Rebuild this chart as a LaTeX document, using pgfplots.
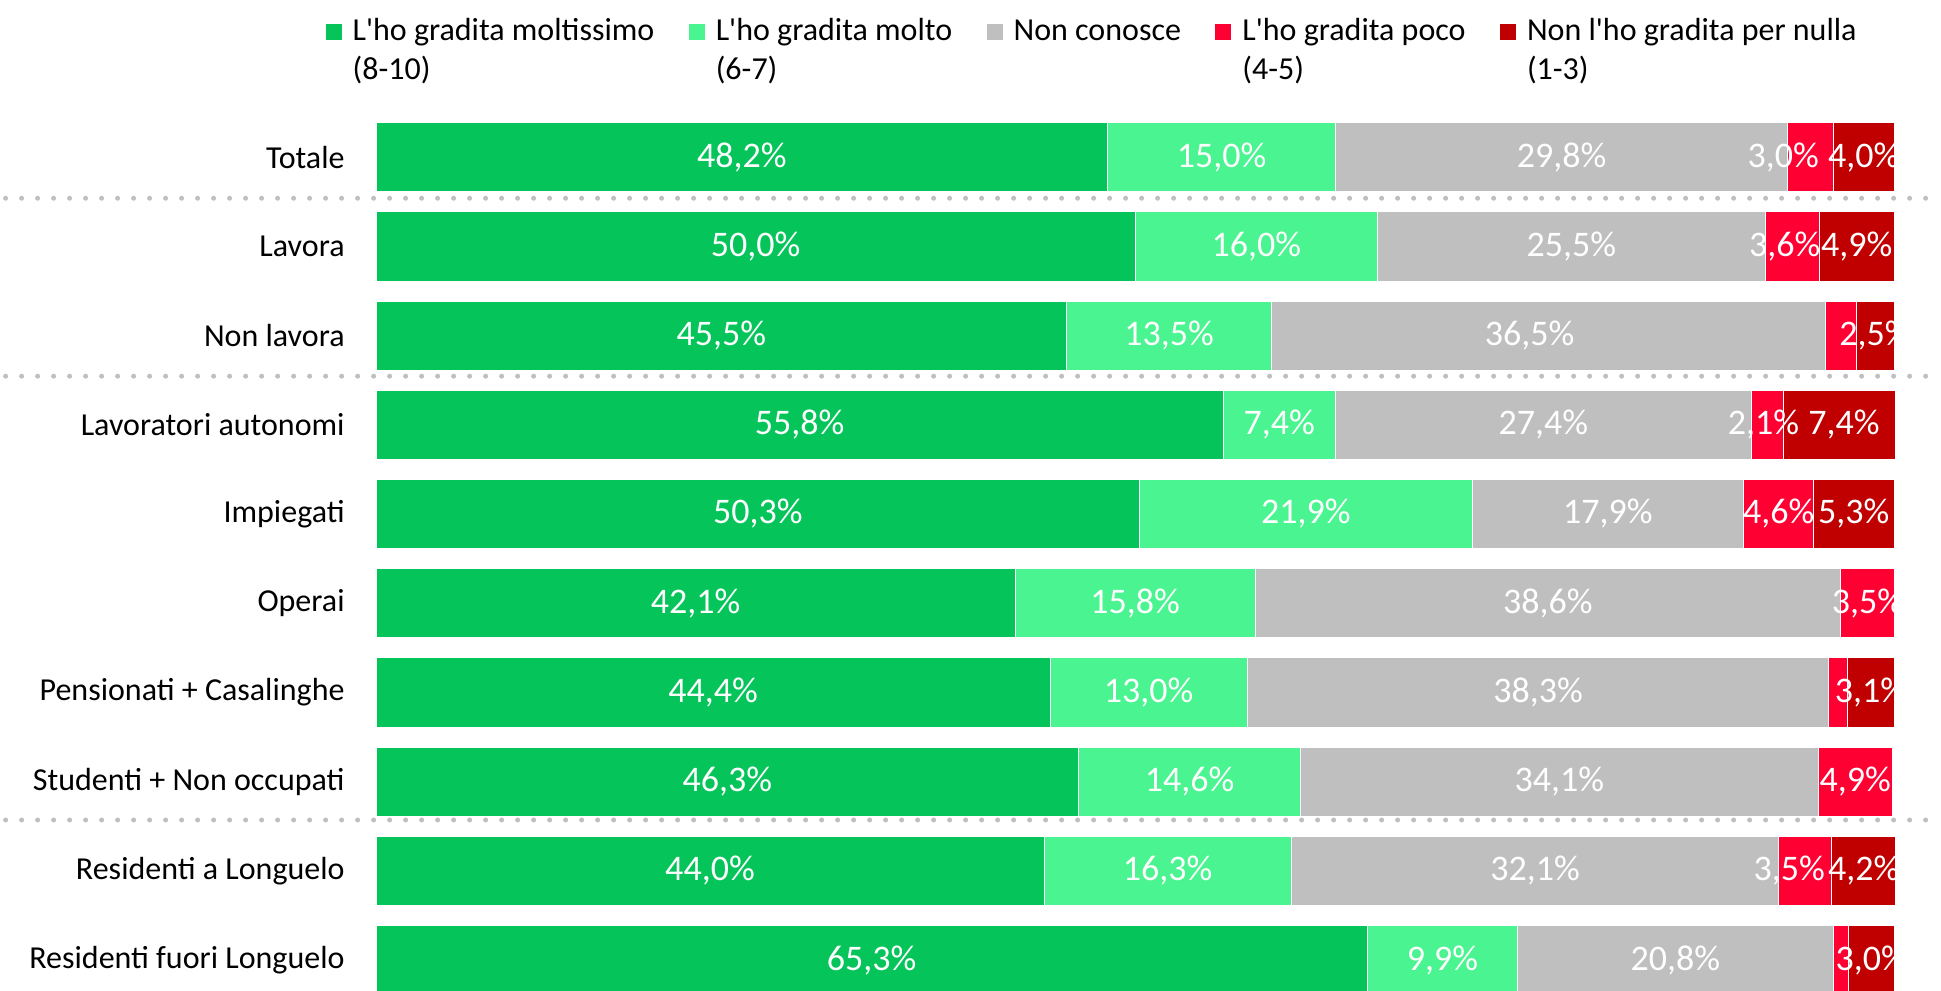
\documentclass[border=0pt]{standalone}
\usepackage{fontspec}
\setmainfont{Carlito}[Ligatures=TeXOff]
\usepackage{pgfplots}
\usepackage{pgfplotstable}
\pgfplotsset{compat=1.18}
\definecolor{cA}{HTML}{05C55A}
\definecolor{cB}{HTML}{4AF490}
\definecolor{cC}{HTML}{BFBFBF}
\definecolor{cD}{HTML}{FF0033}
\definecolor{cE}{HTML}{C00000}

\pgfplotstableread{
y a b c d e
0 48.2 15.0 29.8 3.0 4.0
1 50.0 16.0 25.5 3.6 4.9
2 45.5 13.5 36.5 2.0 2.5
3 55.8 7.4 27.4 2.1 7.4
4 50.3 21.9 17.9 4.6 5.3
5 42.1 15.8 38.6 3.5 0
6 44.4 13.0 38.3 1.2 3.1
7 46.3 14.6 34.1 4.9 0
8 44.0 16.3 32.1 3.5 4.2
9 65.3 9.9 20.8 1.0 3.0
}\datatab

\pgfplotstableread{
x y v
24.1 0 48.2
55.7 0 15.0
78.1 0 29.8
92.7 0 3.0
98.0 0 4.0
25.0 1 50.0
58.0 1 16.0
78.75 1 25.5
92.8 1 3.6
97.55 1 4.9
22.75 2 45.5
52.25 2 13.5
76.0 2 36.5
98.75 2 2.5
27.9 3 55.8
59.5 3 7.4
76.9 3 27.4
91.4 3 2.1
96.7 3 7.4
25.15 4 50.3
61.25 4 21.9
81.15 4 17.9
92.4 4 4.6
97.35 4 5.3
21.05 5 42.1
50.0 5 15.8
77.2 5 38.6
98.25 5 3.5
22.2 6 44.4
50.9 6 13.0
76.55 6 38.3
98.45 6 3.1
23.15 7 46.3
53.6 7 14.6
77.95 7 34.1
97.45 7 4.9
22.0 8 44.0
52.15 8 16.3
76.35 8 32.1
93.1 8 3.5
98.0 8 4.2
32.65 9 65.3
70.25 9 9.9
85.6 9 20.8
98.5 9 3.0
}\labtab

\begin{document}
\begin{tikzpicture}
\useasboundingbox (0pt,0pt) rectangle (970.5pt,-495pt);
\pgfplotsset{mybase/.style={at={(188pt,-56.3pt)}, anchor=north west,
  scale only axis, width=759pt, height=446pt,
  xmin=0, xmax=100, ymin=-0.5, ymax=9.5, y dir=reverse,
  axis line style={draw=none}, tick style={draw=none}, xtick=\empty}}
\begin{axis}[mybase, xbar stacked, bar width=0.774, clip=false,
  ytick={0,...,9},
  yticklabels={Totale, Lavora, Non lavora, Lavoratori autonomi, Impiegati, Operai, Pensionati + Casalinghe, Studenti + Non occupati, Residenti a Longuelo, Residenti fuori Longuelo},
  yticklabel style={font=\fontsize{16}{19.2}\selectfont, inner sep=0pt, xshift=-15.5pt},
  legend columns=5,
  legend cell align=left,
  legend image code/.code={\draw[#1, draw=none] (0pt,-12.8pt) rectangle (8pt,-4.8pt);},
  legend style={at={(axis description cs:-0.0332,1.1105)}, anchor=north west,
    draw=none, fill=none, inner sep=0pt, outer sep=0pt,
    font=\fontsize{16}{19.2}\selectfont,
    cells={align=left, anchor=north west},
    nodes={inner sep=0pt},
    /tikz/every odd column/.append style={column sep=5.5pt},
    /tikz/every even column/.append style={column sep=17.2pt}},
]
\addplot[fill=cA, draw=white, line width=0.4pt] table[x=a,y=y]{\datatab};
\addplot[fill=cB, draw=white, line width=0.4pt] table[x=b,y=y]{\datatab};
\addplot[fill=cC, draw=white, line width=0.4pt] table[x=c,y=y]{\datatab};
\addplot[fill=cD, draw=white, line width=0.4pt] table[x=d,y=y]{\datatab};
\addplot[fill=cE, draw=white, line width=0.4pt] table[x=e,y=y]{\datatab};
\legend{{\strut L'ho gradita moltissimo\\(8-10)}, {\strut L'ho gradita molto\\(6-7)}, {\strut Non conosce}, {\strut L'ho gradita poco\\(4-5)}, {\strut Non l'ho gradita per nulla\\(1-3)}}
\draw[cC, line width=2.5pt, line cap=round, dash pattern=on 0pt off 8pt] (axis cs:-24.4,0.46) -- (axis cs:103.1,0.46);
\draw[cC, line width=2.5pt, line cap=round, dash pattern=on 0pt off 8pt] (axis cs:-24.4,2.455) -- (axis cs:103.1,2.455);
\draw[cC, line width=2.5pt, line cap=round, dash pattern=on 0pt off 8pt] (axis cs:-24.4,7.43) -- (axis cs:103.1,7.43);
\end{axis}
\begin{scope}
\clip (188pt,0pt) rectangle (947pt,-495pt);
\begin{axis}[mybase, hide axis, clip=false]
\addplot[draw=none, mark=none, point meta=explicit,
  nodes near coords={\pgfmathprintnumber[fixed,fixed zerofill,precision=1,use comma,assume math mode=true]{\pgfplotspointmeta}\%},
  nodes near coords style={anchor=center, text=white, inner sep=0pt, font=\fontsize{18}{21}\selectfont}]
  table[x=x,y=y,meta=v]{\labtab};
\end{axis}
\end{scope}
\end{tikzpicture}
\end{document}
